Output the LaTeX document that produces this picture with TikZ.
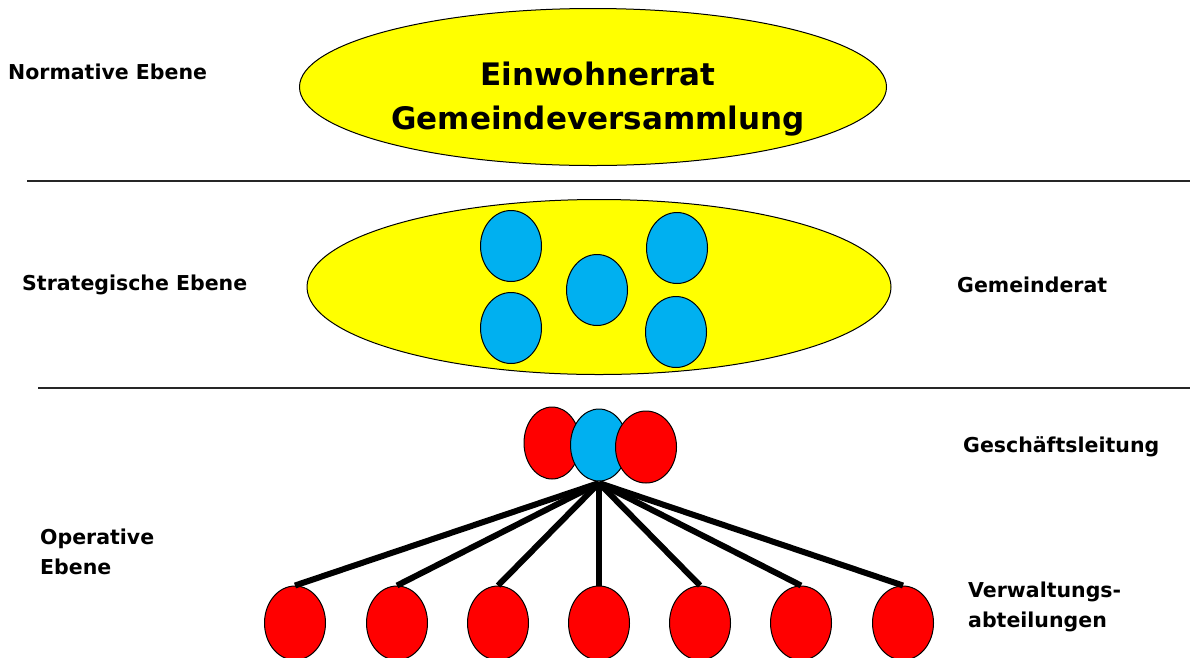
\documentclass[tikz,border=0pt]{standalone}
\usepackage{fontspec}
\setmainfont{DejaVu Sans}
\usetikzlibrary{shapes.geometric}
\definecolor{ylw}{HTML}{FFFF00}
\definecolor{cyanb}{HTML}{00B0F0}
\definecolor{redd}{HTML}{FF0000}
\tikzset{
  oval/.style={ellipse, draw=black, line width=1pt, inner sep=0pt},
  bigoval/.style={oval, fill=ylw},
  blueoval/.style={oval, fill=cyanb, minimum width=61pt, minimum height=71pt},
  redoval/.style={oval, fill=redd, minimum width=61pt, minimum height=74pt},
  lbl/.style={font=\fontsize{20.5}{25}\selectfont\bfseries, anchor=west, inner sep=0pt, align=left},
  sep/.style={line width=1.3pt, draw=black!85},
  link/.style={line width=6pt}
}
\begin{document}
\begin{tikzpicture}[x=1pt,y=-1pt]
\useasboundingbox (0,0) rectangle (1190,657);
% separators
\coordinate (s1a) at (27,181); \coordinate (s1b) at (1190,181);
\coordinate (s2a) at (38,388); \coordinate (s2b) at (1190,388);
\draw[sep] (s1a) -- (s1b);
\draw[sep] (s2a) -- (s2b);
% top
\node[bigoval, minimum width=587pt, minimum height=157pt] (top) at (593,87) {};
\node[font=\fontsize{31}{44}\selectfont\bfseries, align=center] (toptext) at (598,99) {Einwohnerrat\\Gemeindeversammlung};
% middle
\node[bigoval, minimum width=584pt, minimum height=175pt] (mid) at (599,287) {};
\node[blueoval] (m1) at (511,246) {};
\node[blueoval] (m2) at (511,328) {};
\node[blueoval] (m3) at (597,290) {};
\node[blueoval] (m4) at (677,248) {};
\node[blueoval] (m5) at (676,332) {};
% bottom row
\foreach \i/\x in {1/295,2/397,3/498,4/599,5/700,6/801,7/903}{
  \node[redoval] (b\i) at (\x,623) {};
}
% cluster
\coordinate (hub) at (599,483);
\foreach \i in {1,...,7}{
  \draw[link] (hub) -- (b\i.north);
}
\node[redoval, minimum width=56pt, minimum height=72pt] (gl) at (552,443) {};
\node[blueoval, minimum width=57pt, minimum height=72pt] (gc) at (599,445) {};
\node[redoval, minimum height=72pt] (gr) at (646,447) {};
% labels
\node[lbl] (l1) at (8,72) {Normative Ebene};
\node[lbl] (l2) at (22,285) {Strategische Ebene};
\node[lbl] (l3) at (957,285) {Gemeinderat};
\node[lbl] (l4) at (963,447) {Geschäftsleitung};
\node[lbl, font=\fontsize{20.5}{30}\selectfont\bfseries] (l5) at (40,552) {Operative\\Ebene};
\node[lbl, font=\fontsize{20.5}{30}\selectfont\bfseries] (l6) at (968,607) {Verwaltungs-\\abteilungen};
\end{tikzpicture}
\end{document}
